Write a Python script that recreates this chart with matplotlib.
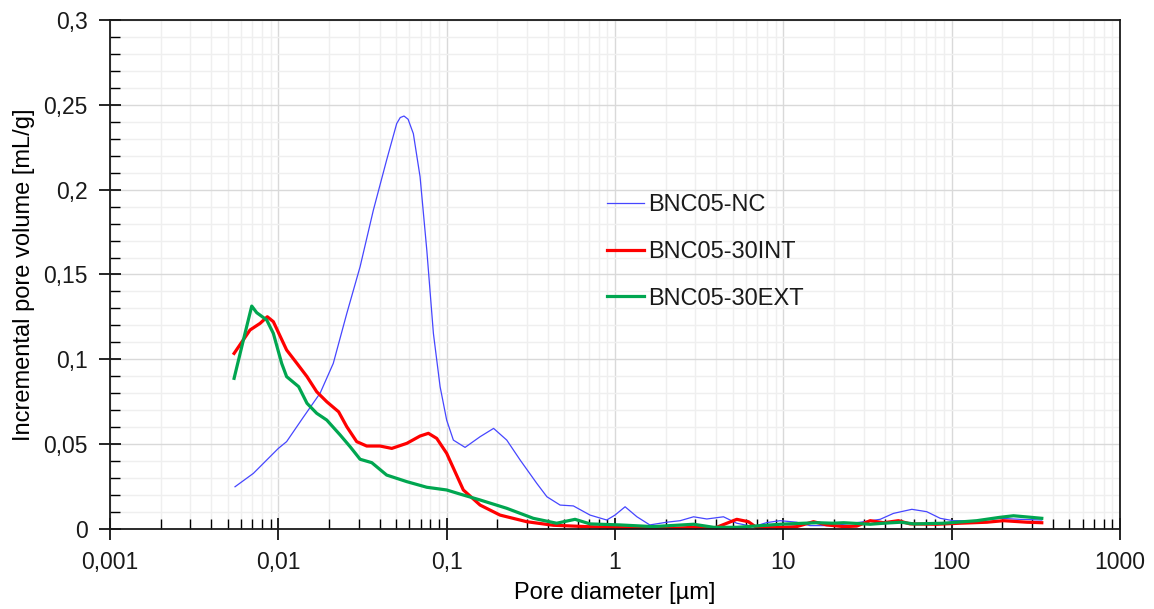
import numpy as np
import matplotlib
matplotlib.use('Agg')
import matplotlib.pyplot as plt
from matplotlib.ticker import FixedLocator, FuncFormatter, MultipleLocator, NullFormatter

plt.rcParams['font.family'] = ['Liberation Sans', 'DejaVu Sans']
plt.rcParams['text.color'] = '#1a1a1a'

# BNC05-NC (blue)
nc_d = [0.00553, 0.00711, 0.01, 0.0112, 0.0141, 0.0177, 0.0212, 0.0255, 0.0306, 0.0367,
        0.044, 0.0505, 0.053, 0.0558, 0.059, 0.0634, 0.0695, 0.0762, 0.0834, 0.0914,
        0.1, 0.1096, 0.1286, 0.158, 0.19, 0.2275, 0.273, 0.343, 0.394, 0.472,
        0.566, 0.711, 0.893, 1.0, 1.148, 1.35, 1.61, 2.03, 2.44, 2.93,
        3.51, 4.41, 5.29, 6.64, 8.0, 9.57, 12.0, 14.4, 19.8, 28.6,
        37.6, 45.1, 58.0, 71.1, 85.5, 102, 141, 194, 255, 343]
nc_v = [0.0249, 0.0328, 0.0475, 0.0515, 0.066, 0.080, 0.0976, 0.127, 0.1546, 0.188,
        0.2175, 0.239, 0.2425, 0.2434, 0.2415, 0.233, 0.2076, 0.1644, 0.1153, 0.0839,
        0.0642, 0.0524, 0.0481, 0.0544, 0.0593, 0.0524, 0.0407, 0.0269, 0.019, 0.0141,
        0.0136, 0.0082, 0.0053, 0.0082, 0.0131, 0.0072, 0.0024, 0.004, 0.0049, 0.0072,
        0.0059, 0.0072, 0.0034, 0.0014, 0.0038, 0.0049, 0.004, 0.002, 0.002, 0.004,
        0.0057, 0.0092, 0.0116, 0.0102, 0.0063, 0.0049, 0.0049, 0.0063, 0.0057, 0.0053]

# BNC05-30INT (red)
int_d = [0.00546, 0.00679, 0.00779, 0.0086, 0.00934, 0.0112, 0.0129, 0.0148, 0.0169, 0.0194,
         0.0228, 0.0255, 0.0292, 0.0335, 0.0402, 0.0472, 0.058, 0.0695, 0.0779, 0.0873,
         0.1, 0.1256, 0.158, 0.2075, 0.299, 0.43, 0.68, 1.07, 2.12, 2.93,
         3.85, 5.29, 6.2, 6.95, 9.1, 12.0, 15.1, 18.1, 22.8, 27.3,
         32.8, 39.4, 48.3, 56.6, 81.6, 112, 162, 203, 280, 343]
int_v = [0.1035, 0.1173, 0.1212, 0.1251, 0.1222, 0.1055, 0.0976, 0.0898, 0.0809, 0.075,
         0.0691, 0.0603, 0.0515, 0.0489, 0.0489, 0.0475, 0.0505, 0.0548, 0.0564, 0.0534,
         0.0446, 0.023, 0.0141, 0.0082, 0.0043, 0.0022, 0.0014, 0.0008, 0.0003, 0.001,
         0.0003, 0.0057, 0.0043, 0.0008, 0.0008, 0.0014, 0.0043, 0.0024, 0.0014, 0.0017,
         0.0049, 0.0037, 0.0049, 0.003, 0.0028, 0.0034, 0.004, 0.0049, 0.004, 0.0037]

# BNC05-30EXT (green)
ext_d = [0.00546, 0.0062, 0.00695, 0.00744, 0.00853, 0.00934, 0.01047, 0.0112, 0.0132, 0.0148,
         0.0169, 0.0194, 0.0233, 0.0267, 0.0306, 0.0359, 0.044, 0.058, 0.0762, 0.1,
         0.12, 0.158, 0.2275, 0.327, 0.45, 0.579, 0.711, 1.07, 1.68, 2.93,
         3.85, 5.29, 6.95, 9.57, 13.2, 16.0, 19.8, 22.8, 25.9, 32.8,
         39.4, 49.9, 59.7, 89.5, 141, 194, 233, 295, 343]
ext_v = [0.0888, 0.1114, 0.1314, 0.1275, 0.1232, 0.1153, 0.0976, 0.0898, 0.0839, 0.0741,
         0.0682, 0.0642, 0.0554, 0.0485, 0.0411, 0.0391, 0.0318, 0.0279, 0.0246, 0.023,
         0.0206, 0.0171, 0.0122, 0.0063, 0.0034, 0.0057, 0.003, 0.0024, 0.0014, 0.0028,
         0.001, 0.001, 0.0018, 0.0028, 0.0034, 0.0037, 0.0034, 0.0037, 0.0034, 0.0028,
         0.0034, 0.004, 0.003, 0.0034, 0.0049, 0.0069, 0.0078, 0.0069, 0.0063]

x_ticks = [0.001, 0.01, 0.1, 1, 10, 100, 1000]

fig = plt.figure(figsize=(11.54, 6.09), dpi=100)
ax = fig.add_axes([110 / 1154, 80 / 609, 1010 / 1154, 509 / 609])

ax.plot(nc_d, nc_v, color='#4646ff', lw=0.9, label='BNC05-NC', solid_joinstyle='round')
ax.plot(int_d, int_v, color='#ff0000', lw=2.3, label='BNC05-30INT', solid_joinstyle='round')
ax.plot(ext_d, ext_v, color='#00a650', lw=2.3, label='BNC05-30EXT', solid_joinstyle='round')

ax.set_xscale('log')
ax.set_xlim(0.001, 1000)
ax.set_ylim(0, 0.3)

# minor ticks 2..9 in each decade, inside the visible range only
minor_x = [m * t for t in x_ticks[:-1] for m in range(2, 10)]
ax.xaxis.set_major_locator(FixedLocator(x_ticks))
ax.xaxis.set_minor_locator(FixedLocator(minor_x))
ax.xaxis.set_minor_formatter(NullFormatter())
ax.yaxis.set_major_locator(MultipleLocator(0.05))
ax.yaxis.set_minor_locator(MultipleLocator(0.01))

def comma(v, pos):
    s = ('%.3f' % v).rstrip('0').rstrip('.')
    return s.replace('.', ',')

ax.xaxis.set_major_formatter(FuncFormatter(comma))
ax.yaxis.set_major_formatter(FuncFormatter(comma))

ax.grid(which='major', color='#d9d9d9', lw=1.0)
ax.grid(which='minor', color='#efefef', lw=1.0)
ax.set_axisbelow(True)

ax.tick_params(which='major', direction='inout', length=16, width=1.2, labelsize=16.5,
               labelcolor='#1a1a1a', pad=8)
ax.tick_params(which='minor', direction='in', length=7, width=1)
for s in ax.spines.values():
    s.set_color('#1a1a1a')
    s.set_linewidth(1.3)

ax.set_xlabel('Pore diameter [µm]', fontsize=17)
ax.xaxis.set_label_coords(0.5, -0.104)
ax.set_ylabel('Incremental pore volume [mL/g]', fontsize=17)
ax.yaxis.set_label_coords(-0.074, 0.5)

ax.legend(loc='upper left', bbox_to_anchor=(607 / 1154, 1 - 194 / 609),
          bbox_transform=fig.transFigure, frameon=False, fontsize=17,
          borderpad=0, borderaxespad=0, handlelength=1.55, handletextpad=0.2,
          labelspacing=1.05)

fig.savefig('out.png', dpi=100)
